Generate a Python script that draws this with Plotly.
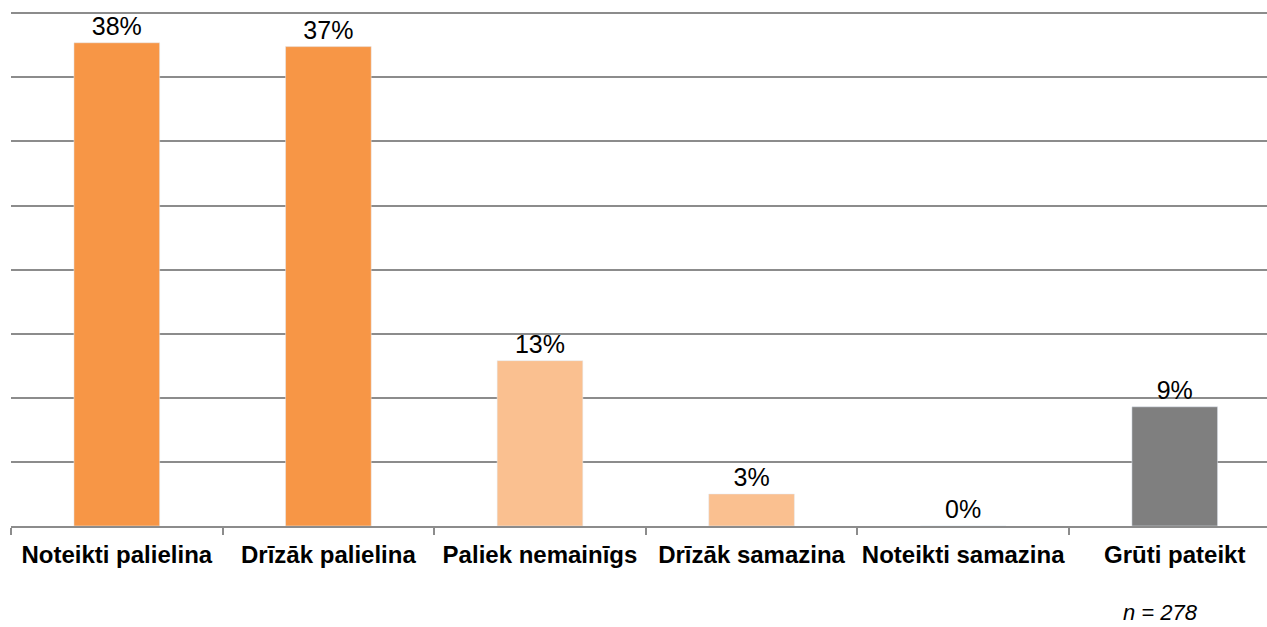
import plotly.graph_objects as go

categories = ["Noteikti palielina", "Drīzāk palielina", "Paliek nemainīgs",
              "Drīzāk samazina", "Noteikti samazina", "Grūti pateikt"]
values = [37.7, 37.4, 12.9, 2.5, 0.0, 9.3]
labels = ["38%", "37%", "13%", "3%", "0%", "9%"]
colors = ["#F79646", "#F79646", "#FAC090", "#FAC090", "#FAC090", "#7F7F7F"]

GRID = "#8c8c8c"
FONT = "Liberation Sans, Arial, sans-serif"

fig = go.Figure(go.Bar(
    x=categories,
    y=values,
    marker_color=colors,
    width=0.405,
    text=labels,
    textposition="outside",
    constraintext="none",
    textfont=dict(size=25, color="#000000", family=FONT),
    cliponaxis=False,
))

fig.add_annotation(
    text="<i>n = 278</i>",
    xref="paper", yref="paper",
    x=0.915, y=-0.169,
    xanchor="center", yanchor="middle",
    showarrow=False,
    font=dict(size=22, color="#000000", family=FONT),
)

fig.update_layout(
    width=1267, height=627,
    margin=dict(l=11, r=0, t=12, b=101, autoexpand=False),
    plot_bgcolor="white",
    paper_bgcolor="white",
    showlegend=False,
    bargap=0.6,
    xaxis=dict(
        range=[-0.5, 5.436],
        automargin=False,
        showline=True, linecolor=GRID, linewidth=2,
        ticks="outside", tickson="boundaries", ticklen=7,
        tickcolor=GRID, tickwidth=2,
        showgrid=False,
        tickangle=0,
        tickfont=dict(size=24, color="#000000", family=FONT, weight="bold"),
        ticklabelstandoff=6,
    ),
    yaxis=dict(
        range=[0, 40.1], tickvals=[5, 10, 15, 20, 25, 30, 35, 40],
        automargin=False,
        showgrid=True, gridcolor=GRID, gridwidth=2,
        showticklabels=False, zeroline=False, showline=False,
    ),
)

# drop the browser's default body margin so the figure sits at 0,0
fig.write_html(
    "out.html",
    config={"displayModeBar": False},
    post_script="document.body.style.margin='0';document.body.style.overflow='hidden';",
)
